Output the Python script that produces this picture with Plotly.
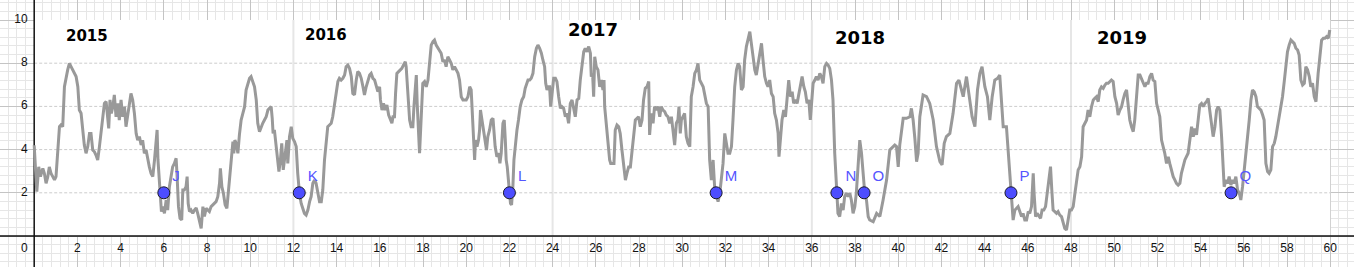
import plotly.graph_objects as go

# ---- data ----
series_x = [0.0,0.12,0.21,0.29,0.40,0.47,0.55,0.63,0.70,0.78,0.86,0.94,1.01,1.09,1.17,1.24,1.32,1.40,1.48,1.55,1.63,1.71,1.78,1.86,1.94,2.02,2.09,2.17,2.25,2.32,2.40,2.48,2.56,2.63,2.71,2.79,2.86,2.94,3.02,3.10,3.17,3.25,3.33,3.40,3.45,3.51,3.57,3.64,3.71,3.79,3.87,3.94,4.02,4.10,4.18,4.25,4.33,4.41,4.48,4.56,4.64,4.72,4.79,4.87,4.95,5.02,5.10,5.18,5.26,5.33,5.41,5.49,5.57,5.64,5.69,5.73,5.80,5.84,5.89,5.95,6.03,6.11,6.18,6.26,6.34,6.41,6.49,6.57,6.61,6.68,6.75,6.83,6.88,6.95,7.03,7.08,7.13,7.19,7.26,7.34,
7.42,7.50,7.57,7.65,7.73,7.81,7.88,7.96,8.04,8.11,8.19,8.27,8.35,8.42,8.50,8.58,8.62,8.69,8.76,8.84,8.92,8.99,9.07,9.12,9.20,9.24,9.29,9.35,9.43,9.50,9.58,9.66,9.74,9.81,9.89,9.97,10.04,10.12,10.20,10.28,10.35,10.43,10.51,10.58,10.66,10.74,10.82,10.89,10.97,11.02,11.06,11.12,11.20,11.28,11.33,11.40,11.46,11.53,11.62,11.70,11.74,11.82,11.90,11.97,12.05,12.13,12.20,12.28,12.36,12.44,12.51,12.59,12.67,12.75,12.82,12.90,12.98,13.05,13.13,13.21,13.29,13.36,13.44,13.52,13.59,13.67,13.75,13.82,13.90,13.98,14.06,14.13,14.21,14.29,14.37,14.44,14.52,14.60,14.68,14.75,14.83,14.91,14.98,
15.06,15.14,15.22,15.29,15.37,15.45,15.53,15.60,15.68,15.76,15.83,15.91,15.99,16.03,16.10,16.17,16.25,16.33,16.41,16.48,16.56,16.61,16.68,16.73,16.79,16.87,16.95,17.02,17.10,17.18,17.22,17.30,17.38,17.45,17.53,17.58,17.62,17.69,17.73,17.78,17.84,17.89,17.93,17.99,18.07,18.15,18.23,18.30,18.38,18.46,18.53,18.61,18.69,18.77,18.84,18.92,18.99,19.07,19.15,19.23,19.31,19.38,19.46,19.54,19.62,19.69,19.77,19.85,19.92,20.00,20.08,20.16,20.23,20.28,20.34,20.39,20.43,20.50,20.57,20.62,20.66,20.73,20.80,20.88,20.94,21.00,21.08,21.16,21.24,21.28,21.34,21.42,21.50,21.56,21.62,21.70,21.76,21.81,21.85,21.90,21.96,22.01,22.05,22.10,22.16,22.21,22.27,22.35,22.42,22.50,22.58,22.66,22.73,22.81,22.86,22.94,
23.01,23.09,23.17,23.25,23.32,23.40,23.48,23.55,23.63,23.68,23.74,23.79,23.86,23.91,23.97,24.05,24.13,24.20,24.28,24.36,24.43,24.51,24.59,24.66,24.74,24.82,24.90,24.97,25.05,25.13,25.21,25.28,25.36,25.44,25.51,25.59,25.67,25.75,25.79,25.85,25.90,25.95,26.02,26.10,26.18,26.26,26.33,26.38,26.41,26.49,26.56,26.64,26.69,26.76,26.84,26.90,26.98,27.06,27.13,27.21,27.29,27.37,27.44,27.52,27.60,27.67,27.75,27.83,27.91,27.98,28.06,28.14,28.21,28.29,28.37,28.45,28.49,28.57,28.65,28.72,28.80,28.88,28.96,29.03,29.11,29.19,29.26,29.34,29.42,29.50,29.57,29.65,29.73,29.80,29.85,29.91,29.96,30.04,30.11,30.19,30.27,30.35,
30.42,30.50,30.58,30.66,30.73,30.81,30.89,30.97,31.12,31.20,31.27,31.35,31.43,31.50,31.58,31.66,31.74,31.81,31.89,31.97,32.05,32.12,32.20,32.28,32.35,32.43,32.51,32.59,32.66,32.74,32.82,32.89,32.97,33.05,33.13,33.20,33.28,33.36,33.43,33.51,33.59,33.67,33.74,33.82,33.90,33.97,34.05,34.13,34.21,34.28,34.36,34.44,34.48,34.55,34.62,34.70,34.78,34.85,34.93,35.01,35.09,35.16,35.24,35.32,35.40,35.47,35.55,35.63,35.70,35.78,35.86,35.93,36.01,36.06,36.14,36.21,36.29,36.37,36.44,36.52,36.60,36.68,36.75,36.83,36.91,36.98,37.06,37.14,37.21,37.29,37.37,37.45,37.52,37.60,37.68,37.76,37.83,37.91,37.99,38.06,38.14,38.22,
38.30,38.38,38.45,38.53,38.61,38.68,38.84,39.00,39.15,39.30,39.46,39.61,39.69,39.76,39.84,39.92,40.00,40.07,40.23,40.38,40.54,40.61,40.69,40.77,40.85,40.92,41.00,41.15,41.31,41.46,41.62,41.77,41.93,42.03,42.13,42.23,42.39,42.54,42.70,42.81,42.90,43.01,43.16,43.31,43.42,43.55,43.67,43.78,43.88,44.01,44.13,44.24,44.35,44.47,44.60,44.70,44.78,44.86,45.01,45.09,45.17,45.24,45.32,45.40,45.55,
45.71,45.78,45.86,45.94,46.02,46.09,46.17,46.25,46.29,46.36,46.43,46.51,46.59,46.66,46.74,46.82,46.90,46.97,47.05,47.11,47.17,47.25,47.33,47.40,47.48,47.56,47.64,47.71,47.79,47.87,47.94,48.02,48.10,48.18,48.25,48.33,48.41,48.49,48.56,48.64,48.72,48.79,48.87,48.95,49.03,49.10,49.18,49.26,49.33,49.41,49.49,49.57,49.64,49.72,49.80,49.87,49.95,50.03,50.11,50.18,50.26,50.34,50.41,50.49,50.57,50.65,50.72,50.80,50.88,50.95,51.03,51.11,51.19,51.26,51.34,51.42,51.49,51.57,51.65,51.73,51.80,51.88,51.96,52.03,52.11,52.19,52.27,52.34,52.42,52.50,52.57,52.65,52.73,52.81,52.88,52.96,53.04,53.11,53.19,53.27,
53.42,53.58,53.66,53.73,53.81,53.89,53.96,54.04,54.12,54.20,54.27,54.35,54.43,54.50,54.58,54.66,54.74,54.81,54.89,54.97,55.05,55.09,55.17,55.25,55.32,55.40,55.48,55.55,55.63,55.71,55.79,55.86,55.94,56.02,56.09,56.17,56.25,56.33,56.40,56.48,56.56,56.63,56.71,56.79,56.87,56.94,57.02,57.10,57.17,57.25,57.33,57.41,57.48,57.56,57.64,57.71,57.79,57.87,57.95,58.02,58.10,58.18,58.25,58.33,58.41,58.49,58.56,58.64,58.72,58.80,58.87,58.95,59.03,59.10,59.18,59.26,59.34,59.38,59.44,59.52,59.60,59.68,59.75,59.83,59.91,59.98]

series_y = [4.2,2.05,3.2,2.75,3.13,2.9,2.44,2.75,3.2,2.9,2.75,2.6,2.75,3.83,5.06,5.14,5.06,6.91,7.38,7.69,7.99,7.84,7.69,7.53,7.38,6.91,5.83,5.68,4.75,4.21,3.83,4.14,4.75,4.75,3.98,3.9,3.75,3.52,4.14,4.75,5.52,6.14,6.22,5.52,4.98,6.3,5.68,5.99,6.53,5.52,6.14,5.37,6.3,5.52,5.99,5.06,5.6,6.3,6.6,6.3,5.68,4.75,4.44,4.6,4.21,4.44,3.83,3.98,3.52,3.2,2.9,2.75,3.52,4.44,4.91,3.52,2.6,1.98,1.13,1.36,1.05,1.67,1.2,2.28,2.9,3.2,3.36,3.6,2.9,1.36,0.82,0.74,2.13,2.13,2.28,2.75,1.5,1.13,1.2,1.05,
1.2,1.3,1.05,0.74,0.35,1.36,0.9,1.28,1.2,1.13,1.36,1.44,1.51,1.59,1.82,2.44,3.13,2.28,1.98,1.44,1.28,2.13,2.75,3.52,4.37,3.83,4.44,4.29,3.83,4.68,5.37,5.68,5.99,6.76,7.07,7.3,7.38,7.15,6.91,6.3,5.22,4.83,5.06,5.22,5.37,5.52,5.83,5.91,5.99,5.45,4.75,4.91,4.14,3.2,2.98,3.52,4.29,3.06,3.67,4.44,3.36,4.6,5.06,4.52,4.37,4.14,2.9,1.98,1.51,1.2,1.05,0.97,1.2,1.59,1.82,2.44,2.59,2.44,1.98,1.59,1.59,2.13,3.52,4.52,5.06,5.14,5.22,5.52,6.14,6.68,7.15,7.3,7.22,7.3,7.45,7.84,7.92,7.76,7.38,6.6,6.53,7.22,7.61,
7.53,7.3,6.91,6.53,6.91,7.15,7.45,7.53,7.3,7.22,6.99,6.68,6.91,6.3,5.83,6.14,5.83,6.06,5.6,5.45,5.22,5.52,5.52,6.6,7.53,7.61,7.69,7.76,7.92,8.07,7.84,6.6,5.37,5.06,5.06,5.99,6.76,7.45,6.14,4.91,3.83,4.91,6.14,7.07,7.15,6.91,7.22,8.15,8.84,9.0,9.07,8.84,8.69,8.53,8.46,8.07,8.15,7.84,8.3,8.15,7.99,7.69,7.84,7.69,7.53,7.22,6.45,6.3,6.3,6.3,6.45,6.91,6.76,5.52,4.75,3.52,4.44,4.14,4.44,4.91,5.83,5.37,4.91,4.44,3.98,4.6,4.91,5.37,5.45,4.91,4.14,3.67,3.83,3.36,3.83,5.22,5.37,4.44,3.52,3.2,2.59,1.98,1.51,1.44,2.28,3.52,4.29,4.91,5.37,5.99,6.3,6.45,6.84,7.07,7.22,7.22,
7.3,7.53,8.3,8.69,8.84,8.69,8.46,8.15,7.84,7.07,6.76,6.91,6.91,5.99,6.45,7.3,7.3,7.15,6.45,5.91,5.99,5.91,5.52,5.68,5.22,6.14,6.3,5.83,5.52,6.3,6.37,7.22,7.99,8.53,8.69,8.53,8.77,8.46,7.38,7.53,6.45,8.3,7.84,7.69,6.91,7.22,6.76,7.22,5.99,5.06,4.29,3.52,3.36,3.36,3.36,4.91,5.14,5.06,4.75,3.98,3.2,2.59,2.9,3.2,3.2,3.83,4.75,5.37,5.45,5.52,5.06,5.37,6.3,6.84,6.91,7.15,4.68,5.68,5.22,5.99,5.83,5.99,5.52,5.99,5.83,5.76,5.6,5.52,5.22,5.52,4.91,4.21,5.22,5.37,5.99,4.75,5.37,5.52,5.68,4.6,4.29,4.14,
6.45,6.9,7.53,7.69,7.99,7.22,7.07,6.91,6.14,5.99,3.52,2.59,3.52,2.28,1.9,1.59,1.98,2.75,3.36,4.75,4.29,3.83,3.83,4.14,5.37,6.91,7.69,7.99,7.84,6.76,6.91,8.15,8.77,9.07,9.46,8.92,8.3,7.69,7.45,7.99,8.61,8.92,8.15,7.38,7.07,6.91,7.22,6.6,6.45,5.68,5.37,4.75,3.67,4.6,5.37,5.83,5.52,6.3,7.22,6.45,6.68,6.14,6.3,6.14,6.6,7.07,7.38,6.91,6.68,6.14,6.3,5.37,6.3,7.07,7.22,7.38,7.22,7.53,7.38,7.07,7.84,7.99,7.92,7.76,7.22,6.3,3.83,2.0,1.05,0.9,1.51,1.2,1.82,1.98,1.82,1.98,1.67,1.05,1.36,1.98,3.06,4.44,
3.83,2.59,2.0,1.67,0.9,0.74,0.66,1.05,0.9,1.67,2.59,3.98,4.06,4.14,4.21,4.14,3.2,4.21,5.45,5.45,5.52,5.91,5.37,4.52,3.44,3.83,5.52,6.53,6.45,6.14,5.37,4.14,3.44,3.29,4.29,4.6,4.75,5.68,7.07,7.22,6.91,6.45,7.38,6.3,5.52,5.06,6.76,7.53,7.84,6.91,6.45,5.37,6.45,7.22,7.3,7.45,6.45,5.06,5.06,3.98,2.75,2.0,0.74,1.2,1.36,
0.9,1.05,0.74,0.74,1.13,1.05,1.36,2.9,1.98,0.9,1.05,0.9,0.82,1.2,1.2,1.36,1.98,2.44,3.21,2.13,1.2,1.13,1.05,1.13,0.97,0.9,0.59,0.35,0.28,0.74,1.2,1.2,1.36,1.98,2.44,3.06,3.21,3.67,5.06,5.22,5.37,5.83,5.52,5.99,6.3,6.37,6.45,6.22,6.76,6.91,6.84,6.99,7.07,7.07,7.15,7.22,7.15,6.45,6.14,5.6,5.83,5.99,6.3,6.6,6.76,5.99,5.37,5.06,4.83,5.37,6.6,7.45,7.45,7.3,7.07,6.91,7.07,7.07,7.38,7.53,7.22,7.15,6.14,5.83,5.52,4.44,4.14,3.83,3.36,3.67,3.36,3.06,2.75,2.59,2.44,2.36,2.44,2.9,3.21,3.52,
3.83,5.06,4.6,4.98,4.68,5.37,6.06,6.14,5.99,6.14,6.22,6.37,5.68,5.06,4.6,5.06,5.83,5.99,5.83,4.6,3.06,2.28,2.59,2.44,2.75,2.36,2.59,2.44,2.75,2.13,1.98,1.67,2.28,3.06,3.52,4.44,5.37,6.3,6.76,6.68,6.45,5.99,5.91,5.83,5.6,5.37,3.36,2.98,2.9,3.06,4.14,4.29,4.6,5.06,5.45,5.83,6.45,7.15,7.84,8.53,8.84,9.07,9.0,8.92,8.69,8.61,8.38,7.22,6.99,7.07,7.84,7.69,7.38,6.91,7.07,6.45,6.22,6.91,7.53,8.3,9.07,9.15,9.15,9.23,9.15,9.54]

point_names = ["J", "K", "L", "M", "N", "O", "P", "Q"]
point_x = [6.0, 12.27, 22.0, 31.57, 37.16, 38.42, 45.22, 55.41]
point_y = [2, 2, 2, 2, 2, 2, 2, 2]

year_labels = ["2015", "2016", "2017", "2018", "2019"]
year_x = [2.46, 13.5, 25.85, 38.22, 50.36]
year_y = [9.26, 9.31, 9.54, 9.17, 9.17]
year_size = [15, 15, 18, 18, 18]

year_bounds = [12, 24, 36, 48]
dashed_levels = [2, 4, 6, 8]
x_ticks = list(range(2, 61, 2))
y_ticks = [2, 4, 6, 8, 10]

X_RANGE = [-1.583, 61.10]
Y_RANGE = [-1.435, 10.926]

fig = go.Figure()

shapes = []
# white picture area
shapes.append(dict(type="rect", xref="x", yref="y", x0=0, x1=60, y0=0, y1=10,
                   fillcolor="white", line=dict(width=0), layer="between"))
for b in year_bounds:
    shapes.append(dict(type="line", xref="x", yref="y", x0=b, x1=b, y0=0, y1=10,
                       line=dict(color="#e6e6e6", width=2), layer="between"))
for lv in dashed_levels:
    shapes.append(dict(type="line", xref="x", yref="y", x0=0, x1=60, y0=lv, y1=lv,
                       line=dict(color="#cccccc", width=1, dash="3px,2px"), layer="between"))
# axes
shapes.append(dict(type="line", xref="x", yref="y", x0=X_RANGE[0], x1=X_RANGE[1], y0=0, y1=0,
                   line=dict(color="#111111", width=1.5), layer="between"))
shapes.append(dict(type="line", xref="x", yref="y", x0=0, x1=0, y0=Y_RANGE[0], y1=Y_RANGE[1],
                   line=dict(color="#111111", width=1.5), layer="between"))

fig.add_trace(go.Scatter(x=series_x, y=series_y, mode="lines",
                         line=dict(color="#999999", width=3), hoverinfo="skip",
                         showlegend=False))

fig.add_trace(go.Scatter(x=point_x, y=point_y, mode="markers+text", text=point_names,
                         textposition="top right",
                         textfont=dict(color="#5555ff", size=15, family="Liberation Sans"),
                         marker=dict(size=12, color="#4d4dff", line=dict(color="#1a1a2a", width=1)),
                         showlegend=False))

# tick labels
fig.add_trace(go.Scatter(x=x_ticks, y=[-0.6] * len(x_ticks), mode="text",
                         text=[str(t) for t in x_ticks], textposition="middle center",
                         textfont=dict(color="#111111", size=12, family="Liberation Sans"),
                         showlegend=False, hoverinfo="skip"))
fig.add_trace(go.Scatter(x=[-0.3] * len(y_ticks), y=y_ticks, mode="text",
                         text=[str(t) for t in y_ticks], textposition="middle left",
                         textfont=dict(color="#111111", size=12, family="Liberation Sans"),
                         showlegend=False, hoverinfo="skip"))
fig.add_trace(go.Scatter(x=[-0.3], y=[-0.6], mode="text", text=["0"], textposition="middle left",
                         textfont=dict(color="#111111", size=12, family="Liberation Sans"),
                         showlegend=False, hoverinfo="skip"))

annotations = []
for lab, xx, yy, sz in zip(year_labels, year_x, year_y, year_size):
    annotations.append(dict(x=xx, y=yy, xref="x", yref="y", text="<b>" + lab + "</b>",
                            showarrow=False,
                            font=dict(family="DejaVu Sans", size=sz, color="black")))

fig.update_layout(
    width=1354, height=267,
    margin=dict(l=0, r=0, t=0, b=0),
    paper_bgcolor="white", plot_bgcolor="white",
    shapes=shapes, annotations=annotations,
    xaxis=dict(range=X_RANGE, showticklabels=False, ticks="", zeroline=False,
               showgrid=True, tick0=0, dtick=2, gridcolor="#c4c4c4", gridwidth=1,
               minor=dict(tick0=0, dtick=0.4, showgrid=True, gridcolor="#e6e6e6", gridwidth=1),
               fixedrange=True),
    yaxis=dict(range=Y_RANGE, showticklabels=False, ticks="", zeroline=False,
               showgrid=True, tick0=0, dtick=2, gridcolor="#c4c4c4", gridwidth=1,
               minor=dict(tick0=0, dtick=0.4, showgrid=True, gridcolor="#e6e6e6", gridwidth=1),
               fixedrange=True),
    showlegend=False,
)

fig.write_html("out.html")
